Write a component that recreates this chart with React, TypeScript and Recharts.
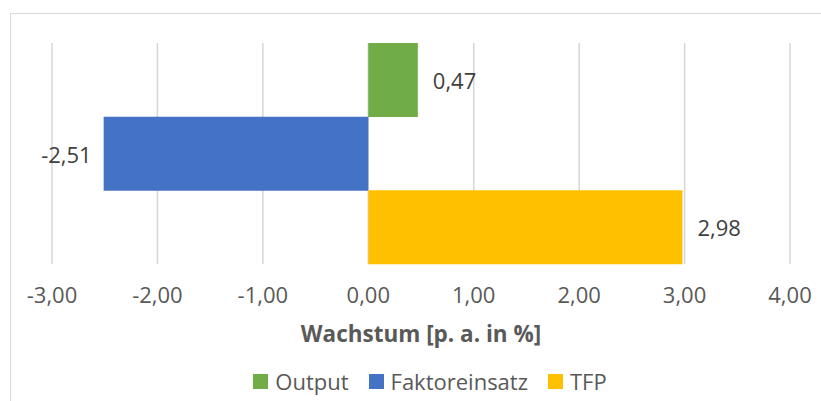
import { Bar, BarChart, CartesianGrid, Cell, LabelList, XAxis, YAxis } from "recharts"

const categories = ["Output", "Faktoreinsatz", "TFP"]
const values = [0.47, -2.51, 2.98]
const xTicks = [-3, -2, -1, 0, 1, 2, 3, 4]
const axisTitle = "Wachstum [p. a. in %]"

const colors = ["#70AD47", "#4472C4", "#FFC000"]
const font = "'Open Sans', sans-serif"

const data = categories.map((name, i) => ({ name, value: values[i] }))

const fmt = (v: number) => Number(v).toFixed(2).replace(".", ",")

function ValueLabel(props: any) {
  const { x, y, width, height, value } = props
  const left = Math.min(x, x + width)
  const right = Math.max(x, x + width)
  const neg = value < 0
  return (
    <text
      x={neg ? left - 12 : right + 15}
      y={y + height / 2}
      textAnchor={neg ? "end" : "start"}
      dominantBaseline="central"
      fontFamily={font}
      fontSize={22}
      fill="#404040"
    >
      {fmt(value)}
    </text>
  )
}

export default function App() {
  return (
    <div
      style={{
        position: "absolute",
        left: 0,
        top: 0,
        width: 821,
        height: 401,
        background: "#fff",
        overflow: "hidden",
        fontFamily: font,
      }}
    >
      <div
        style={{
          position: "absolute",
          left: 10,
          top: 13,
          right: -10,
          bottom: -10,
          borderLeft: "1.5px solid #D9D9D9",
          borderTop: "1.5px solid #D9D9D9",
        }}
      />
      <div style={{ position: "absolute", left: 0, top: 0 }}>
        <BarChart
          width={821}
          height={401}
          data={data}
          layout="vertical"
          barCategoryGap={0}
          margin={{ top: 43, right: 31, left: 52, bottom: 57 }}
        >
          <CartesianGrid horizontal={false} stroke="#D6D6D6" strokeWidth={1.5} />
          <XAxis
            type="number"
            domain={[-3, 4]}
            ticks={xTicks}
            tickFormatter={fmt}
            axisLine={false}
            tickLine={false}
            tickSize={0}
            tickMargin={23}
            height={80}
            tick={{ fill: "#595959", fontSize: 22, fontFamily: font }}
            label={{
              value: axisTitle,
              position: "insideBottom",
              offset: 2,
              fill: "#595959",
              fontSize: 22.5,
              fontWeight: 700,
              fontFamily: font,
            }}
          />
          <YAxis type="category" dataKey="name" hide />
          <Bar dataKey="value" isAnimationActive={false}>
            {data.map((d, i) => (
              <Cell key={d.name} fill={colors[i]} />
            ))}
            <LabelList dataKey="value" content={ValueLabel} />
          </Bar>
        </BarChart>
      </div>
      <div
        style={{
          position: "absolute",
          left: 0,
          width: 860,
          top: 366,
          height: 30,
          display: "flex",
          justifyContent: "center",
          alignItems: "center",
          gap: 20,
          fontSize: 22,
          color: "#595959",
        }}
      >
        {categories.map((c, i) => (
          <div key={c} style={{ display: "flex", alignItems: "center", gap: 7 }}>
            <span style={{ width: 15, height: 15, background: colors[i], display: "inline-block" }} />
            <span>{c}</span>
          </div>
        ))}
      </div>
    </div>
  )
}
